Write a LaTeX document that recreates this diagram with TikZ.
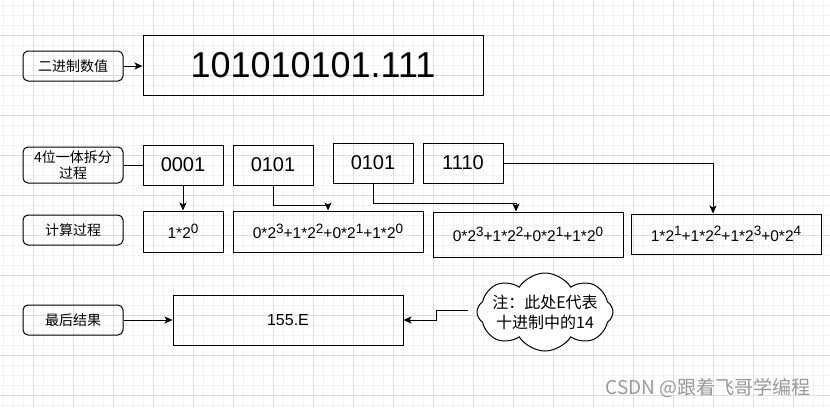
\documentclass[tikz,border=0pt]{standalone}
\usepackage{fontspec}
\setmainfont{Liberation Sans}
\newfontfamily\cjk{Noto Sans CJK SC}
\usetikzlibrary{arrows.meta,shapes.symbols}

\newcommand{\fsz}[1]{\fontsize{#1}{#1}\selectfont}
\newcommand{\pw}[1]{\raisebox{5.5pt}{\fsz{13.5}#1}}

\begin{document}
\begin{tikzpicture}[x=1pt,y=-1pt,
    tag/.style={draw,line width=1pt,rounded corners=5pt,minimum width=100pt,minimum height=30pt,inner sep=0pt,align=center,font=\cjk\fontsize{14}{16}\selectfont},
    box/.style={draw,line width=1pt,minimum width=80pt,minimum height=40pt,inner sep=0pt},
    arr/.style={line width=1pt,-{Stealth[length=8pt,width=7pt,inset=2pt]}}]

            \useasboundingbox (0,0) rectangle (830,407);

            % Background grid, minor lines every 10 and major every 40
            \fill[white] (0,0) rectangle (830,407);
            \foreach \x in {3,13,...,823} {
                \draw[black!5,line width=1pt] (\x,0) -- (\x,407);
            }
            \foreach \y in {5,15,...,405} {
                \draw[black!5,line width=1pt] (0,\y) -- (830,\y);
            }
            \foreach \x in {33,73,...,793} {
                \draw[black!13,line width=1pt] (\x,0) -- (\x,407);
            }
            \foreach \y in {35,75,...,395} {
                \draw[black!13,line width=1pt] (0,\y) -- (830,\y);
            }

            % Binary value
            \node[tag] (bin) at (73,66) {二进制数值};
            \node[box,minimum width=340pt,minimum height=60pt,font=\fsz{36}] (val) at (313,65) {101010101.111};

            % Groups of four bits
            \node[tag,minimum height=36pt] (split) at (73,165) {4位一体拆分\\过程};
            \foreach \n/\x/\y/\t in {g1/183/165/0001, g2/273/165/0101, g3/373/163/0101, g4/463/163/1110} {
                \node[box,font=\fsz{20}] (\n) at (\x,\y) {\t};
            }

            % Weighted sums
            \node[tag] (calc) at (73,230) {计算过程};
            \node[box,minimum height=41pt,font=\fsz{15.5}] (c1) at (183,231.5) {1*2\pw{0}};
            \node[box,minimum width=190pt,minimum height=41pt,font=\fsz{15.5}] (c2) at (328,231.5) {0*2\pw{3}+1*2\pw{2}+0*2\pw{1}+1*2\pw{0}};
            \node[box,minimum width=190pt,minimum height=45pt,font=\fsz{15.5}] (c3) at (528,234.5) {0*2\pw{3}+1*2\pw{2}+0*2\pw{1}+1*2\pw{0}};
            \node[box,minimum width=190pt,minimum height=40pt,font=\fsz{15.5}] (c4) at (726,234) {1*2\pw{1}+1*2\pw{2}+1*2\pw{3}+0*2\pw{4}};

            % Result and note
            \node[tag] (last) at (73,320) {最后结果};
            \node[box,minimum width=230pt,minimum height=50pt,font=\fsz{16}] (res) at (288,320) {155.E};
            \node[cloud,draw,fill=white,line width=1pt,cloud puffs=8,cloud puff arc=115,aspect=1.7,minimum width=136pt,minimum height=78pt,inner sep=0pt] (note) at (545,312) {};
            \node[align=center,font=\cjk\fontsize{16}{20}\selectfont] (notetext) at (note.center) {注：此处E代表\\十进制中的14};

            % Connectors
            \draw[arr] (bin.east) -- (bin.east -| val.west);
            \draw[line width=1pt] (split.east) -- (split.east -| g1.west);
            \draw[arr] (g1.south) -- (c1.north);
            \draw[arr] (g2.south) -- ++(0,20) -| (c2.north);
            \draw[arr] (g3.south) -- ++(0,20) -| ([xshift=-12pt]c3.north);
            \draw[arr] (g4.east) -| ([xshift=-13pt]c4.north);
            \draw[arr] (last.east) -- (res.west);
            \coordinate (tail) at (468,310);
            \draw[arr] (tail) -- ++(-32,0) |- (res.east);

            % Watermark
            \node[text=black!40,font=\cjk\fsz{19}] (mark) at (708,388) {CSDN @跟着飞哥学编程};

\end{tikzpicture}
\end{document}
